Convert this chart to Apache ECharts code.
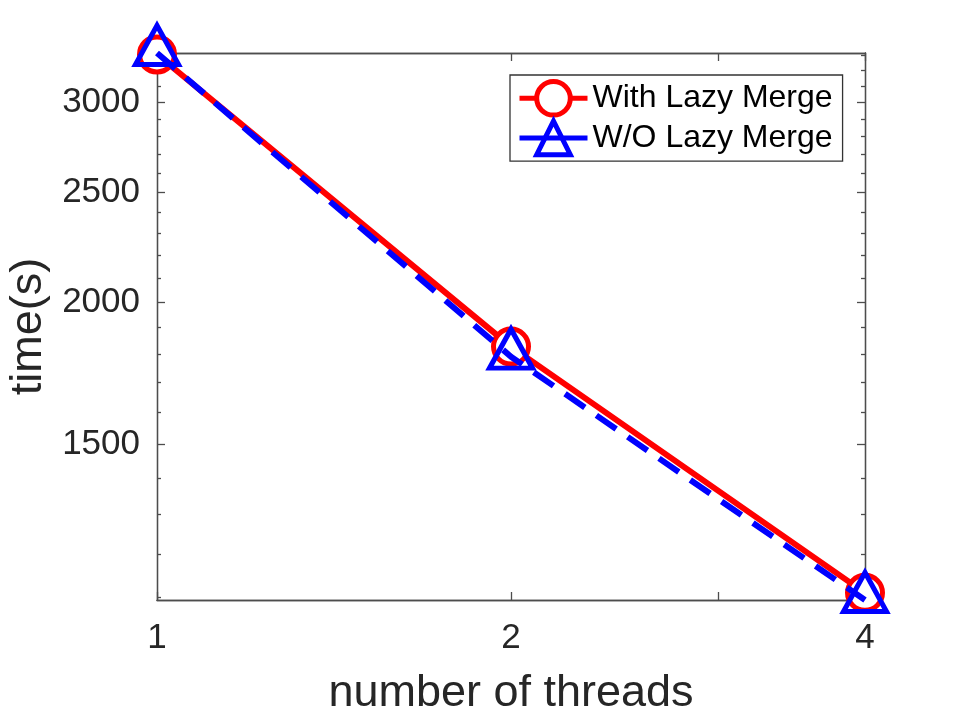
<!DOCTYPE html>
<html>
<head>
<meta charset="utf-8">
<script src="https://cdn.jsdelivr.net/npm/echarts@6/dist/echarts.min.js"></script>
<style>
  html, body { margin: 0; padding: 0; background: #fff; }
  #main { width: 955px; height: 716px; }
</style>
</head>
<body>
<div id="main"></div>
<script>
// data (log-log plot)
var threads = [1, 2, 4];
var withLazy = [3307, 1828, 1109];
var withoutLazy = [3317, 1791, 1093];
var yMajorTicks = [1500, 2000, 2500, 3000];
var yMinorTicks = [1100, 1200, 1300, 1400, 1600, 1700, 1800, 1900, 2100, 2200, 2300, 2400, 2600, 2700, 2800, 2900, 3100, 3200, 3300];
var xMajorTicks = [1, 2, 4];
var xMinorTicks = [3];
var yMin = 1093, yMax = 3317;

var myChart = echarts.init(document.getElementById('main'));
var axisColor = '#4d4d4d';
var textColor = '#262626';
var font = 'Liberation Sans';
var plain = function (v) { return String(v); };

function xAx(pos, ticks, len, showLabel, name) {
    return {
        type: 'log', logBase: 2, min: 1, max: 4, position: pos,
        name: name || '', nameLocation: 'middle', nameGap: 71,
        nameTextStyle: { fontSize: 45, color: textColor, fontFamily: font },
        axisLine: { show: true, lineStyle: { color: axisColor, width: 1.3 } },
        axisTick: { show: true, inside: true, length: len, customValues: ticks,
            lineStyle: { color: axisColor, width: 1.3 } },
        axisLabel: { show: showLabel, customValues: ticks, margin: 21, formatter: plain,
            fontSize: 35, color: textColor, fontFamily: font },
        splitLine: { show: false },
        minorTick: { show: false }
    };
}
function yAx(pos, ticks, len, showLabel, name) {
    return {
        type: 'log', min: yMin, max: yMax, position: pos,
        name: name || '', nameLocation: 'middle', nameGap: 92,
        nameTextStyle: { fontSize: 45, color: textColor, fontFamily: font },
        axisLine: { show: true, lineStyle: { color: axisColor, width: 1.3 } },
        axisTick: { show: true, inside: true, length: len, customValues: ticks,
            lineStyle: { color: axisColor, width: 1.3 } },
        axisLabel: { show: showLabel, customValues: ticks, margin: 17, formatter: plain,
            fontSize: 35, color: textColor, fontFamily: font },
        splitLine: { show: false },
        minorTick: { show: false }
    };
}

var option = {
    backgroundColor: '#fff',
    animation: false,
    grid: { left: 157, right: 90, top: 53, bottom: 116, containLabel: false, outerBoundsMode: 'none' },
    legend: {
        orient: 'vertical', left: 510, top: 75,
        padding: [4, 10, 4, 7],
        itemWidth: 68, itemHeight: 42, itemGap: 1,
        borderColor: '#333', borderWidth: 1.3, backgroundColor: '#fff',
        textStyle: { fontSize: 32, color: '#000', fontFamily: font },
        data: [
            { name: 'With Lazy Merge', lineStyle: { width: 5 }, itemStyle: { borderWidth: 5 } },
            { name: 'W/O Lazy Merge', lineStyle: { width: 5, type: 'solid' }, itemStyle: { borderWidth: 5 } }
        ]
    },
    xAxis: [
        xAx('bottom', xMajorTicks, 8, true, 'number of threads'),
        xAx('bottom', xMinorTicks, 8, false),
        xAx('top', xMajorTicks, 8, false),
        xAx('top', xMinorTicks, 8, false)
    ],
    yAxis: [
        yAx('left', yMajorTicks, 8, true, 'time(s)'),
        yAx('left', yMinorTicks, 4, false),
        yAx('right', yMajorTicks, 8, false),
        yAx('right', yMinorTicks, 4, false)
    ],
    series: [
        {
            name: 'With Lazy Merge', type: 'line',
            data: threads.map(function (t, i) { return [t, withLazy[i]]; }),
            symbol: 'circle', symbolSize: 35,
            itemStyle: { color: '#fff', borderColor: '#ff0000', borderWidth: 5 },
            lineStyle: { color: '#ff0000', width: 6 },
            color: '#ff0000', z: 2
        },
        {
            name: 'W/O Lazy Merge', type: 'line',
            data: threads.map(function (t, i) { return [t, withoutLazy[i]]; }),
            symbol: 'triangle', symbolSize: [43, 39], symbolOffset: [0, -8],
            itemStyle: { color: 'rgba(255,255,255,0)', borderColor: '#0000ff', borderWidth: 5 },
            lineStyle: { color: '#0000ff', width: 6, type: [24, 14] },
            color: '#0000ff', z: 3
        }
    ]
};
myChart.setOption(option);
</script>
</body>
</html>
